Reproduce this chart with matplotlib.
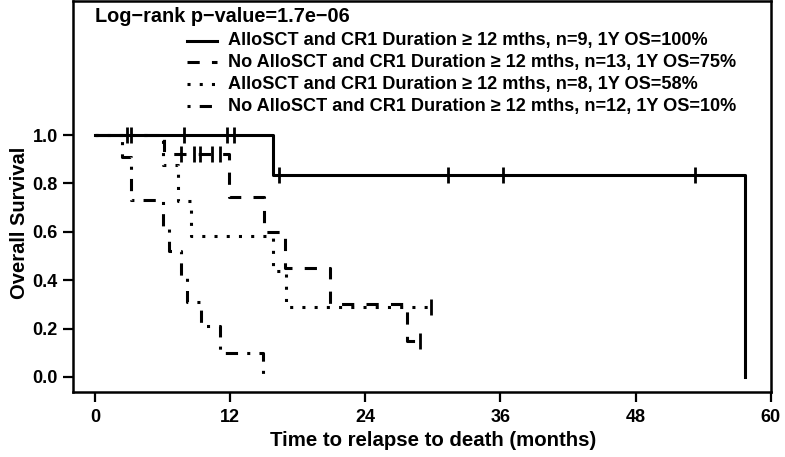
import numpy as np
import matplotlib
matplotlib.use("Agg")
import matplotlib.pyplot as plt
from matplotlib.lines import Line2D

plt.rcParams["font.family"] = ["Liberation Sans", "DejaVu Sans"]
plt.rcParams["font.weight"] = "bold"

W, H = 785, 457

# Kaplan-Meier steps: (months, survival)
solid_t = [0, 15.8, 57.7]
solid_s = [1.0, 0.833, 0.0]
solid_cens = [2.85, 3.2, 7.9, 11.7, 12.3, 16.3, 31.3, 36.2, 53.3]

dashed_t = [0, 6.1, 11.9, 15.0, 16.9, 20.9, 27.7]
dashed_s = [1.0, 0.92, 0.745, 0.60, 0.45, 0.30, 0.15]
dashed_end = 28.9
dashed_cens = [7.6, 8.8, 9.3, 10.4, 11.1, 28.9]

dotted_t = [0, 6.0, 7.4, 8.5, 15.8, 17.0]
dotted_s = [1.0, 0.875, 0.729, 0.583, 0.437, 0.29]
dotted_end = 29.8
dotted_cens = [29.8]

dashdot_t = [0, 2.4, 3.2, 6.0, 6.6, 7.6, 8.2, 9.4, 11.1, 14.9]
dashdot_s = [1.0, 0.91, 0.73, 0.615, 0.52, 0.41, 0.31, 0.21, 0.10, 0.0]
dashdot_end = 14.9
dashdot_cens = []

labels = [
    "AlloSCT and CR1 Duration \u2265 12 mths, n=9, 1Y OS=100%",
    "No AlloSCT and CR1 Duration \u2265 12 mths, n=13, 1Y OS=75%",
    "AlloSCT and CR1 Duration \u2265 12 mths, n=8, 1Y OS=58%",
    "No AlloSCT and CR1 Duration \u2265 12 mths, n=12, 1Y OS=10%",
]
pvalue_text = "Log\u2212rank p\u2212value=1.7e\u221206"
xticks = [0, 12, 24, 36, 48, 60]
yticks = [0.0, 0.2, 0.4, 0.6, 0.8, 1.0]

LW = 2.2
styles = ["-", (0, (4, 4)), (0, (1, 3)), (0, (1, 3, 4, 3))]
curves = [
    (solid_t, solid_s, solid_t[-1], solid_cens),
    (dashed_t, dashed_s, dashed_end, dashed_cens),
    (dotted_t, dotted_s, dotted_end, dotted_cens),
    (dashdot_t, dashdot_s, dashdot_end, dashdot_cens),
]

fig = plt.figure(figsize=(W / 100, H / 100), dpi=100)
ax = fig.add_axes([72.5 / W, 1 - 392 / H, (770.7 - 72.5) / W, (392 - 1) / H])

for (t, s, end, cens), ls in zip(curves, styles):
    t = np.asarray(t, float)
    s = np.asarray(s, float)
    xs = np.append(t, end)
    ys = np.append(s, s[-1])
    ax.step(xs, ys, where="post", color="black", lw=LW, linestyle=ls)
    if cens:
        c = np.asarray(cens, float)
        cy = s[np.searchsorted(t, c, side="right") - 1]
        ax.plot(c, cy, linestyle="none", marker="|", ms=11, mew=2.0, color="black")

ax.set_xlim(-2, 60)
ax.set_ylim(-0.062, 1.554)
ax.set_xticks(xticks)
ax.set_yticks(yticks)
ax.set_yticklabels([f"{v:.1f}" for v in yticks])
ax.tick_params(axis="both", direction="out", length=7.5, width=1.6, labelsize=13)
ax.tick_params(axis="y", pad=3)
ax.tick_params(axis="x", pad=5)
for sp in ax.spines.values():
    sp.set_linewidth(1.8)

# title text and legend
fig.text(95 / W, 1 - 16 / H, pvalue_text, fontsize=14.3, ha="left", va="center")
rows_y = [41, 62, 84, 106]
for lab, ls, ry in zip(labels, styles, rows_y):
    yy = 1 - ry / H
    fig.add_artist(Line2D([187 / W, 217 / W], [yy, yy], color="black", lw=LW, linestyle=ls))
    fig.text(228 / W, yy, lab, fontsize=13.1, ha="left", va="center")

fig.text(20 / W, 1 - 223 / H, "Overall Survival", rotation=90, fontsize=14.5,
         ha="center", va="center")
fig.text(433 / W, 1 - 441 / H, "Time to relapse to death (months)", fontsize=14.7,
         ha="center", va="center")

fig.savefig("out.png", dpi=100)
